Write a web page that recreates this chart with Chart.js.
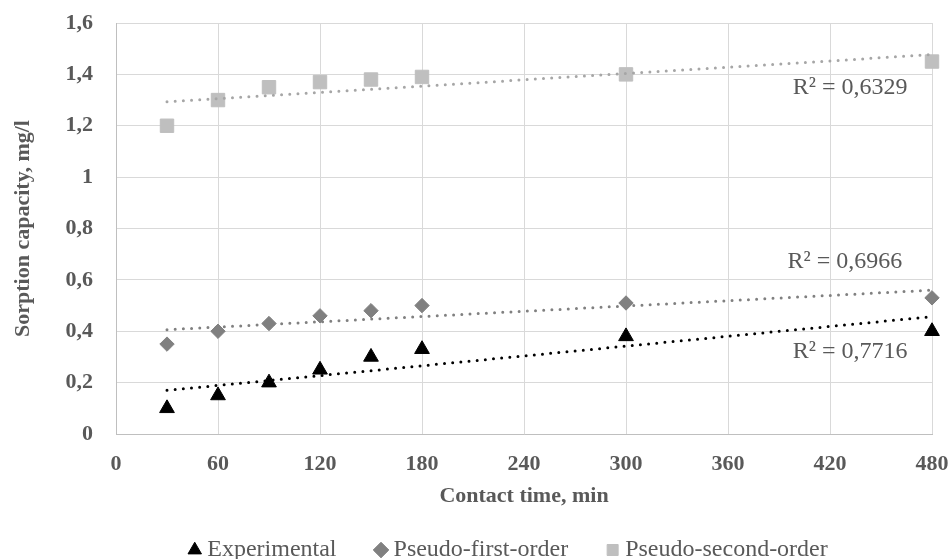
<!DOCTYPE html>
<html>
<head>
<meta charset="utf-8">
<script src="https://cdn.jsdelivr.net/npm/chart.js@4.4.1/dist/chart.umd.min.js"></script>
<style>
  html, body { margin: 0; padding: 0; background: #ffffff; }
  #wrap { width: 951px; height: 559px; }
</style>
</head>
<body>
<div id="wrap"><canvas id="c" width="951" height="559"></canvas></div>
<script>
// ---- data ----
const times = [30, 60, 90, 120, 150, 180, 300, 480];
const experimental = [0.10, 0.15, 0.20, 0.25, 0.30, 0.33, 0.38, 0.40];
const pseudoFirst = [0.35, 0.40, 0.43, 0.46, 0.48, 0.50, 0.51, 0.53];
const pseudoSecond = [1.20, 1.30, 1.35, 1.37, 1.38, 1.39, 1.40, 1.45];

// linear trendlines (end values)
const trendX = [30, 480];
const trendExperimental = [0.170, 0.457];
const trendFirst = [0.406, 0.560];
const trendSecond = [1.293, 1.477];

const seriesNames = ['Experimental', 'Pseudo-first-order', 'Pseudo-second-order'];
const r2Labels = ['R² = 0,7716', 'R² = 0,6966', 'R² = 0,6329'];
const r2Anchors = [[431.8, 0.32], [428.8, 0.670], [431.8, 1.348]];

const xTicks = [0, 60, 120, 180, 240, 300, 360, 420, 480];
const yTicks = [0, 0.2, 0.4, 0.6, 0.8, 1, 1.2, 1.4, 1.6];

const pts = (xs, ys) => xs.map((x, i) => ({ x: x, y: ys[i] }));
const TXT = '#595959';
const SERIF = '"Liberation Serif", "Times New Roman", serif';

const trendDs = (ys, color) => ({
  label: 'trend',
  data: pts(trendX, ys),
  showLine: true,
  borderColor: color,
  borderWidth: 3,
  borderDash: [0, 8.2],
  borderCapStyle: 'round',
  pointRadius: 0,
  pointHoverRadius: 0,
  fill: false,
  clip: false
});

const r2Plugin = {
  id: 'r2',
  afterDatasetsDraw(chart) {
    const ctx = chart.ctx;
    const xs = chart.scales.x, ys = chart.scales.y;
    ctx.save();
    ctx.font = '24px ' + SERIF;
    ctx.fillStyle = TXT;
    ctx.textAlign = 'center';
    ctx.textBaseline = 'middle';
    r2Labels.forEach((t, i) => {
      ctx.fillText(t, xs.getPixelForValue(r2Anchors[i][0]), ys.getPixelForValue(r2Anchors[i][1]));
    });
    ctx.restore();
  }
};

new Chart(document.getElementById('c'), {
  type: 'scatter',
  data: {
    datasets: [
      trendDs(trendExperimental, '#000000'),
      trendDs(trendFirst, '#808080'),
      trendDs(trendSecond, '#a6a6a6'),
      {
        label: seriesNames[0],
        data: pts(times, experimental),
        pointStyle: 'triangle',
        pointRadius: 8.5,
        backgroundColor: '#000000',
        borderColor: '#000000',
        borderWidth: 1,
        clip: false
      },
      {
        label: seriesNames[1],
        data: pts(times, pseudoFirst),
        pointStyle: 'rectRot',
        pointRadius: 7.2,
        backgroundColor: '#808080',
        borderColor: '#808080',
        borderWidth: 1,
        clip: false
      },
      {
        label: seriesNames[2],
        data: pts(times, pseudoSecond),
        pointStyle: 'rect',
        pointRadius: 9.5,
        backgroundColor: '#bfbfbf',
        borderColor: '#bfbfbf',
        borderWidth: 1,
        clip: false
      }
    ]
  },
  options: {
    responsive: false,
    animation: false,
    events: [],
    layout: { padding: { left: 90, right: 19, top: 23, bottom: -13 } },
    plugins: {
      tooltip: { enabled: false },
      legend: {
        position: 'bottom',
        labels: {
          filter: (item) => item.text !== 'trend',
          usePointStyle: true,
          boxWidth: 1,
          boxHeight: 11,
          padding: 44,
          color: TXT,
          font: { family: SERIF, size: 24 }
        }
      }
    },
    scales: {
      x: {
        type: 'linear',
        min: 0,
        max: 480,
        afterBuildTicks: (s) => { s.ticks = xTicks.map(v => ({ value: v })); },
        afterFit: (s) => {
          s.height = 60;
          s.paddingLeft = 0;
          s.paddingRight = 0;
        },
        ticks: {
          padding: 17,
          color: TXT,
          font: { family: SERIF, size: 22, weight: 'bold' },
          maxRotation: 0,
          callback: (v) => String(v)
        },
        grid: { color: '#d9d9d9', lineWidth: 1, drawTicks: false },
        border: { color: '#bfbfbf', width: 1 },
        title: {
          display: true,
          text: 'Contact time, min',
          color: TXT,
          font: { family: SERIF, size: 22, weight: 'bold' },
          padding: { top: 0, bottom: -16 }
        }
      },
      y: {
        type: 'linear',
        min: 0,
        max: 1.6,
        afterBuildTicks: (s) => { s.ticks = yTicks.map(v => ({ value: v })); },
        afterFit: (s) => {
          s.width = 26;
          s.paddingTop = 0;
          s.paddingBottom = 0;
          s._computeLabelArea = () => undefined;
        },
        ticks: {
          padding: 23,
          color: TXT,
          font: { family: SERIF, size: 22, weight: 'bold' },
          callback: (v) => String(Math.round(v * 10) / 10).replace('.', ',')
        },
        grid: { color: '#d9d9d9', lineWidth: 1, drawTicks: false },
        border: { color: '#bfbfbf', width: 1 },
        title: {
          display: true,
          text: 'Sorption capacity, mg/l',
          color: TXT,
          font: { family: SERIF, size: 22, weight: 'bold' },
          padding: { top: -80, bottom: 0 }
        }
      }
    }
  },
  plugins: [r2Plugin]
});
</script>
</body>
</html>
